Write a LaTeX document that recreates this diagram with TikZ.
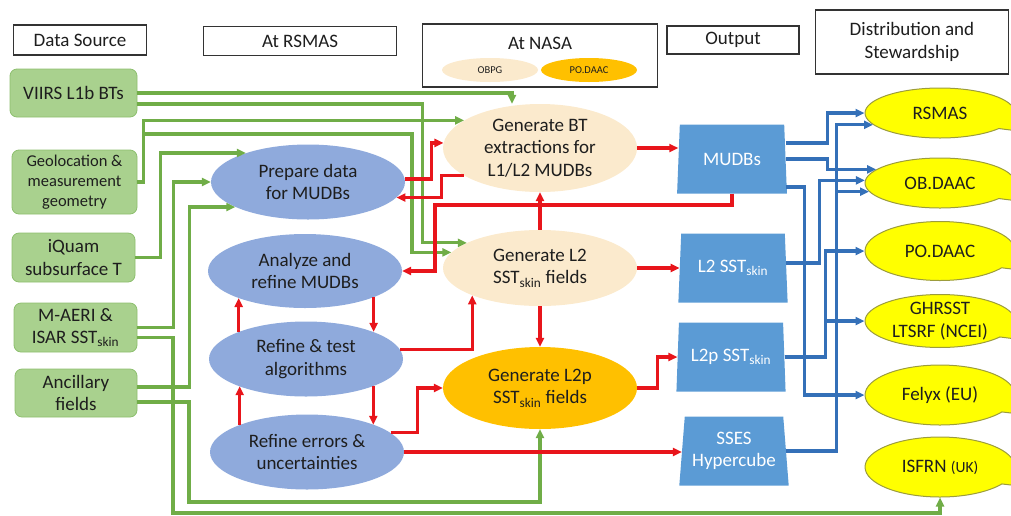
\documentclass[tikz,border=0pt]{standalone}
\usepackage{fontspec}
\setmainfont{Carlito}
\usepackage{tikz}
\usetikzlibrary{positioning, arrows.meta, shapes.geometric, shapes.callouts, calc}
\definecolor{srcgreen}{HTML}{A9D18E}
\definecolor{srcedge}{HTML}{8DBF6E}
\definecolor{linegreen}{HTML}{70AD47}
\definecolor{stepblue}{HTML}{8FAADC}
\definecolor{nasacream}{HTML}{FBEACD}
\definecolor{daacorange}{HTML}{FFC000}
\definecolor{outblue}{HTML}{5B9BD5}
\definecolor{linered}{HTML}{E8151B}
\definecolor{lineblue}{HTML}{3470B8}
\definecolor{distyellow}{HTML}{FFFF00}
\definecolor{distedge}{HTML}{9C9C3C}
\definecolor{txt}{HTML}{1E1E1E}
\newcommand{\sstskin}{SST\textsubscript{skin}}

\begin{document}
\begin{tikzpicture}[x=1pt, y=-1pt,
  font=\fontsize{19}{22.5}\selectfont, text=txt,
  hdr/.style={draw=black!80, line width=1.2pt, fill=white, align=center},
  src/.style={rectangle, rounded corners=7pt, fill=srcgreen, draw=srcedge, line width=0.8pt, align=center, inner sep=2pt, minimum width=124pt, minimum height=49pt},
  proc/.style={ellipse, fill=stepblue, align=center, inner sep=0pt, minimum width=194pt, minimum height=75pt},
  nasa/.style={proc, fill=nasacream},
  outp/.style={trapezium, trapezium left angle=83, trapezium right angle=83, trapezium stretches=true, fill=outblue, text=white, align=center, minimum width=110pt, minimum height=69pt, inner sep=0pt},
  dist/.style={ellipse callout, callout relative pointer={(110pt,-19pt)}, callout pointer arc=22, fill=distyellow, draw=distedge, line width=1pt, align=center, inner sep=0pt, minimum width=150pt, minimum height=56pt},
  gline/.style={draw=linegreen, line width=3.2pt, -{Triangle[length=9pt,width=8pt]}},
  rline/.style={draw=linered, line width=3.2pt, -{Triangle[length=9pt,width=8pt]}},
  bline/.style={draw=lineblue, line width=3.2pt, -{Triangle[length=9pt,width=8pt]}}]
\useasboundingbox (0,0) rectangle (1011,515);
\clip (0,0) rectangle (1011,515);

\node[hdr, minimum width=133pt, minimum height=30pt] (hsrc) at (80,40) {Data Source};
\node[hdr, minimum width=193pt, minimum height=29pt] (hrsmas) at (300,41) {At RSMAS};
\node[hdr, minimum width=235pt, minimum height=63pt] (hnasa) at (540,55.5) {};
\node (nasa) at (540,43) {At NASA};
\node[ellipse, fill=nasacream, minimum width=96pt, minimum height=24pt, inner sep=0pt, font=\fontsize{10.5}{12}\selectfont] (obpg) at (490,70) {OBPG};
\node[ellipse, fill=daacorange, minimum width=96pt, minimum height=24pt, inner sep=0pt, font=\fontsize{10.5}{12}\selectfont] (nasadaac) at (589,70) {PO.DAAC};
\node[hdr, minimum width=132pt, minimum height=28pt] (hout) at (733,40) {Output};
\node[hdr, minimum width=193pt, minimum height=64pt] (hdist) at (912,42) {Distribution and\\Stewardship};

\node[src, minimum width=127pt, minimum height=48pt] (viirs) at (73.5,93) {VIIRS L1b BTs};
\node[src, minimum width=125pt, minimum height=64pt, font=\fontsize{16.5}{20}\selectfont] (geo) at (74.5,182) {Geolocation \&\\measurement\\geometry};
\node[src, minimum width=123pt] (iquam) at (73.5,257.5) {iQuam\\subsurface T};
\node[src, minimum width=123pt] (maeri) at (75.5,327.5) {M-AERI \&\\ISAR \sstskin};
\node[src, minimum width=122pt, minimum height=48pt] (ancil) at (76,393) {Ancillary\\fields};

\node[proc] (prep) at (308,182) {Prepare data\\for MUDBs};
\node[proc, minimum height=74pt] (anlz) at (305,271) {Analyze and\\refine MUDBs};
\node[proc] (refalg) at (306,359) {Refine \& test\\algorithms};
\node[proc] (referr) at (307,452) {Refine errors \&\\uncertainties};

\node[nasa, minimum height=88pt] (gbt) at (540,148) {Generate BT\\extractions for\\L1/L2 MUDBs};
\node[nasa, minimum height=76pt] (gl2) at (540,268) {Generate L2\\\sstskin{} fields};
\node[nasa, fill=daacorange, minimum height=82pt] (gl2p) at (540,388) {Generate L2p\\\sstskin{} fields};

\node[outp] (mudbs) at (732,159) {MUDBs};
\node[outp] (l2out) at (733,268) {L2 \sstskin};
\node[outp] (l2pout) at (731,357) {L2p \sstskin};
\node[outp] (sses) at (734,451) {SSES\\Hypercube};

\node[dist, minimum height=50pt] (rsmas) at (940,113) {RSMAS};
\node[dist, minimum height=50pt] (obdaac) at (940,183) {OB.DAAC};
\node[dist, minimum height=59pt] (podaac) at (940,251) {PO.DAAC};
\node[dist, minimum height=52pt] (ghrsst) at (940,321) {GHRSST\\LTSRF (NCEI)};
\node[dist, minimum height=60pt] (felyx) at (940,395) {Felyx (EU)};
\node[dist, minimum height=60pt] (isfrn) at (940,467) {ISFRN {\fontsize{15.5}{18}\selectfont(UK)}};

\coordinate (geosplit) at (143,134);
\draw[gline] (viirs.east) -| ([xshift=-28pt]gbt.north);
\draw[gline] ([yshift=-11pt]viirs.east) -- ++(285,0) |- (gl2.161);
\draw[gline] (geo.east) -- ++(6,0) |- (gbt.160);
\draw[gline] (geosplit) -- (412,134) |- (gl2.170);
\draw[gline] (iquam.east) -- ++(25,0) |- (prep.155);
\draw[gline] (maeri.east) -- ++(36,0) |- (prep.west);
\draw[gline] ([yshift=-10pt]maeri.east) -| (173,513) -| (isfrn.south);
\draw[gline] ([yshift=6pt]ancil.east) -- ++(52,0) |- (prep.199);
\draw[gline] ([yshift=-9pt]ancil.east) -| (189,502) -| (gl2p.south);

\draw[rline] ([yshift=3pt]prep.east) -- ++(26,0) |- (gbt.177);
\draw[rline] (gbt.200) -- ++(-23,0) |- (prep.350);
\draw[rline] (gbt.east) -- (gbt.east -| mudbs.west);
\draw[rline] (mudbs.south) |- (435,205) |- (anlz.east);
\draw[rline] (gl2.north) -- (gbt.south);
\draw[rline] (gl2.east) -- (gl2.east -| l2out.west);
\draw[rline] (gl2.south) -- (gl2p.north);
\draw[rline] (refalg.6) -| (gl2.202);
\draw[rline] (anlz.339) -- (anlz.339 |- refalg.22);
\draw[rline] (refalg.158) -- (refalg.158 |- anlz.202);
\draw[rline] (refalg.338) -- (refalg.338 |- referr.22);
\draw[rline] (referr.158) -- (referr.158 |- refalg.202);
\draw[rline] (referr.13) -- ++(27,0) |- (gl2p.west);
\draw[rline] (referr.east) -- (referr.east -| sses.west);
\draw[rline] (gl2p.east) -- ++(20,0) |- (l2pout.west);

\draw[bline] ([yshift=16pt]mudbs.east) -- ++(42,0) |- (rsmas.west);
\draw[bline] (mudbs.east) -- ++(42,0) |- (obdaac.168);
\draw[bline] ([yshift=-28pt]mudbs.east) -- ++(19,0) |- (felyx.west);
\draw[bline] ([yshift=5pt]l2out.east) -- ++(33,0) |- (obdaac.178);
\draw[bline] (l2pout.east) -- ++(41,0) |- (podaac.west);
\draw[bline] (l2pout.east) -- ++(41,0) |- (ghrsst.west);
\draw[bline] (sses.east) -- ++(50,0) |- (rsmas.190);
\draw[bline] (sses.east) -- ++(50,0) |- (obdaac.187);
\end{tikzpicture}
\end{document}
